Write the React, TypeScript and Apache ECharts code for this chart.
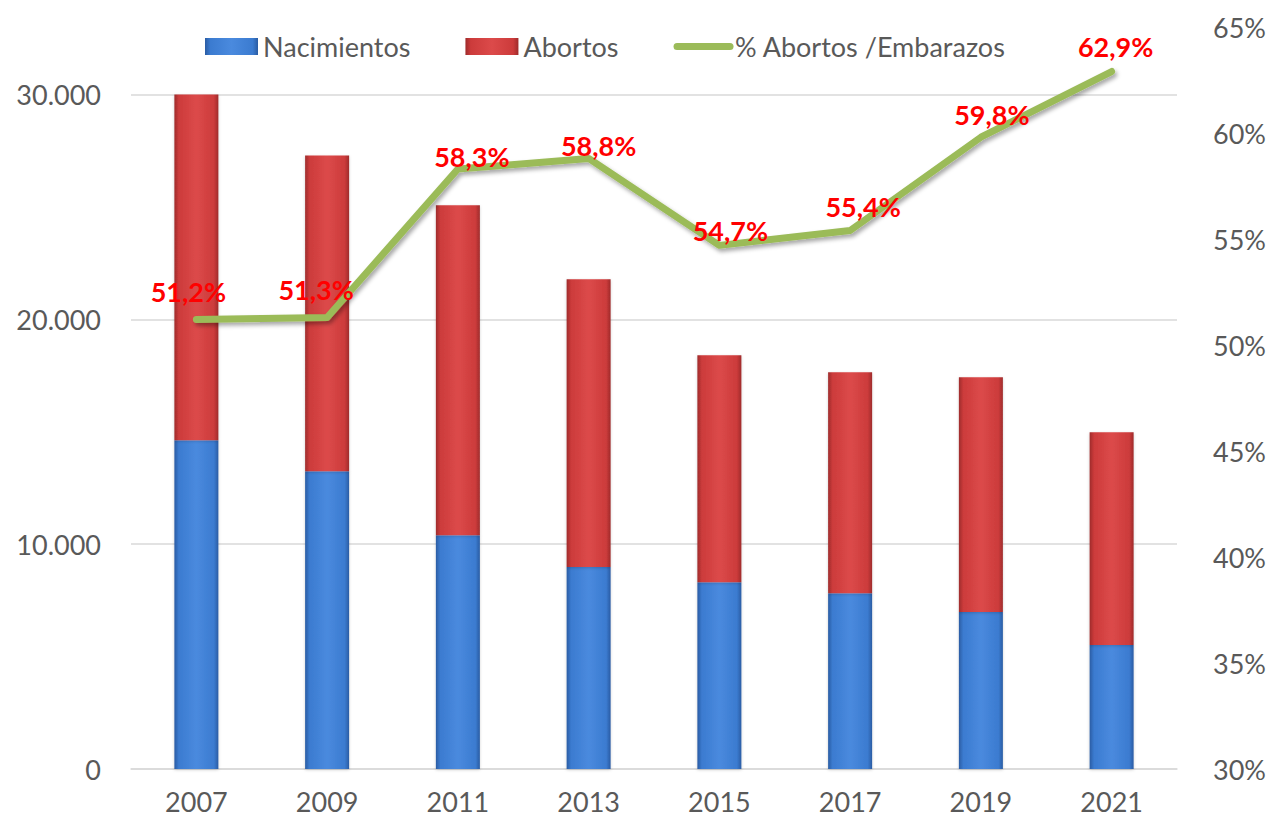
import React, { useEffect, useRef } from "react";
import * as echarts from "echarts";

const years = ["2007", "2009", "2011", "2013", "2015", "2017", "2019", "2021"];
const nacimientos = [14620, 13240, 10400, 8980, 8310, 7820, 6980, 5510];
const abortos = [15380, 14050, 14670, 12800, 10090, 9820, 10440, 9470];
const pctAbortos = [51.2, 51.3, 58.3, 58.8, 54.7, 55.4, 59.8, 62.9];
const labelOffsets = [
  [-8, -28], [-11, -28], [14, -13], [10, -13], [11, -15], [13, -24], [11, -23], [4, -25],
];

const FONT = "Lato";

function fmtThousands(v: number): string {
  const s = Math.round(v).toString();
  return s.replace(/\B(?=(\d{3})+(?!\d))/g, ".");
}

function hGrad(edge: string, mid: string, light: string) {
  return new echarts.graphic.LinearGradient(0, 0, 1, 0, [
    { offset: 0, color: edge },
    { offset: 0.1, color: mid },
    { offset: 0.5, color: light },
    { offset: 0.9, color: mid },
    { offset: 1, color: edge },
  ]);
}

export default function App() {
  const ref = useRef<HTMLDivElement>(null);
  useEffect(() => {
    document.body.style.margin = "0";
    if (!ref.current) return;
    const chart = echarts.init(ref.current, undefined, { renderer: "svg" });
    chart.setOption({
      animation: false,
      backgroundColor: "#ffffff",
      textStyle: { fontFamily: FONT },
      grid: { left: 131, right: 95, top: 27, bottom: 53, containLabel: false },
      legend: {
        left: 200,
        top: 28,
        itemWidth: 53,
        itemHeight: 17,
        itemGap: 55,
        textStyle: { fontFamily: FONT, fontSize: 27, color: "#595959" },
        data: [
          { name: "Nacimientos", icon: "rect" },
          { name: "Abortos", icon: "rect" },
          {
            name: "% Abortos /Embarazos",
            itemStyle: { opacity: 0 },
            lineStyle: { width: 7, color: "#9bbb59", cap: "round", shadowBlur: 0 },
          },
        ],
      },
      xAxis: {
        type: "category",
        data: years,
        axisTick: { show: false },
        axisLine: { lineStyle: { color: "#d9d9d9", width: 1.5 } },
        axisLabel: { fontFamily: FONT, fontSize: 27, color: "#595959", margin: 19 },
      },
      yAxis: [
        {
          type: "value",
          min: 0,
          max: 33000,
          interval: 10000,
          axisLine: { show: false },
          axisTick: { show: false },
          splitLine: { show: true, showMaxLine: false, lineStyle: { color: "#d9d9d9", width: 1.5 } },
          axisLabel: {
            fontFamily: FONT,
            fontSize: 27,
            color: "#595959",
            margin: 30,
            showMaxLabel: false,
            formatter: (v: number) => (v % 10000 === 0 ? fmtThousands(v) : ""),
          },
        },
        {
          type: "value",
          min: 30,
          max: 65,
          interval: 5,
          position: "right",
          axisLine: { show: false },
          axisTick: { show: false },
          splitLine: { show: false },
          axisLabel: {
            fontFamily: FONT,
            fontSize: 27,
            color: "#595959",
            margin: 36,
            formatter: (v: number) => `${v}%`,
          },
        },
      ],
      series: [
        {
          name: "Nacimientos",
          type: "bar",
          stack: "total",
          barWidth: 44,
          data: nacimientos,
          itemStyle: {
            color: hGrad("#2a5ca3", "#3b7bd0", "#4a8ade"),
            shadowColor: "rgba(0,0,0,0.18)",
            shadowBlur: 3,
            shadowOffsetY: 1,
          },
        },
        {
          name: "Abortos",
          type: "bar",
          stack: "total",
          barWidth: 44,
          data: abortos,
          itemStyle: {
            color: hGrad("#9e2b2b", "#cc3b3b", "#dc4a4a"),
            shadowColor: "rgba(0,0,0,0.18)",
            shadowBlur: 3,
            shadowOffsetY: 1,
          },
        },
        {
          name: "% Abortos /Embarazos",
          type: "line",
          yAxisIndex: 1,
          symbol: "circle",
          symbolSize: 1,
          showSymbol: true,
          itemStyle: { color: "#9bbb59" },
          lineStyle: {
            color: "#9bbb59",
            width: 7,
            cap: "round",
            join: "round",
            shadowColor: "rgba(0,0,0,0.35)",
            shadowBlur: 4,
            shadowOffsetX: 2,
            shadowOffsetY: 3,
          },
          data: pctAbortos.map((v, i) => ({
            value: v,
            label: { offset: labelOffsets[i] },
          })),
          label: {
            show: true,
            position: "inside",
            fontFamily: FONT,
            fontSize: 27,
            fontWeight: "bold",
            color: "#ff0000",
            formatter: (p: any) => `${p.value.toFixed(1).replace(".", ",")}%`,
          },
          z: 5,
        },
      ],
    });
    return () => chart.dispose();
  }, []);
  return <div ref={ref} style={{ width: 1272, height: 822 }} />;
}
